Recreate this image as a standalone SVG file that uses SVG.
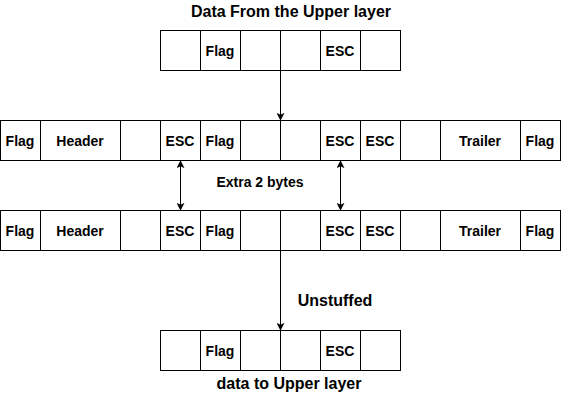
<svg xmlns="http://www.w3.org/2000/svg" width="561" height="401" viewBox="0 0 561 401">
<defs>
<style>
.c{fill:#fff;stroke:#000;stroke-width:1}
.t{font-family:"Liberation Sans",Arial,sans-serif;font-weight:bold;font-size:14px;fill:#000;text-anchor:middle}
.l{font-family:"Liberation Sans",Arial,sans-serif;font-weight:bold;fill:#000;text-anchor:middle}
.e{fill:none;stroke:#000;stroke-width:1}
</style>
<marker id="ah" viewBox="0 0 10 10" refX="9" refY="5" markerWidth="8" markerHeight="8" markerUnits="userSpaceOnUse" orient="auto-start-reverse">
<path d="M0,0 L10,5 L0,10 L2.5,5 Z" fill="#000"/>
</marker>
</defs>
<rect width="561" height="401" fill="#fff"/>

<g id="labels">
<text class="l" x="291" y="17" font-size="16">Data From the Upper layer</text>
<text class="l" x="260" y="187" font-size="14">Extra 2 bytes</text>
<text class="l" x="335" y="306" font-size="16">Unstuffed</text>
<text class="l" x="289" y="389" font-size="16">data to Upper layer</text>
</g>

<g id="row-top">
<rect class="c" x="160.5" y="30.5" width="40" height="40"/>
<rect class="c" x="200.5" y="30.5" width="40" height="40"/>
<rect class="c" x="240.5" y="30.5" width="40" height="40"/>
<rect class="c" x="280.5" y="30.5" width="40" height="40"/>
<rect class="c" x="320.5" y="30.5" width="40" height="40"/>
<rect class="c" x="360.5" y="30.5" width="40" height="40"/>
<text class="t" x="220" y="56">Flag</text>
<text class="t" x="340" y="56">ESC</text>
</g>

<g id="row-stuffed">
<rect class="c" x="0.5" y="120.5" width="40" height="40"/>
<rect class="c" x="40.5" y="120.5" width="80" height="40"/>
<rect class="c" x="120.5" y="120.5" width="40" height="40"/>
<rect class="c" x="160.5" y="120.5" width="40" height="40"/>
<rect class="c" x="200.5" y="120.5" width="40" height="40"/>
<rect class="c" x="240.5" y="120.5" width="40" height="40"/>
<rect class="c" x="280.5" y="120.5" width="40" height="40"/>
<rect class="c" x="320.5" y="120.5" width="40" height="40"/>
<rect class="c" x="360.5" y="120.5" width="40" height="40"/>
<rect class="c" x="400.5" y="120.5" width="40" height="40"/>
<rect class="c" x="440.5" y="120.5" width="80" height="40"/>
<rect class="c" x="520.5" y="120.5" width="40" height="40"/>
<text class="t" x="20" y="146">Flag</text>
<text class="t" x="80" y="146">Header</text>
<text class="t" x="180" y="146">ESC</text>
<text class="t" x="220" y="146">Flag</text>
<text class="t" x="340" y="146">ESC</text>
<text class="t" x="380" y="146">ESC</text>
<text class="t" x="480" y="146">Trailer</text>
<text class="t" x="540" y="146">Flag</text>
</g>

<g id="row-received">
<rect class="c" x="0.5" y="210.5" width="40" height="40"/>
<rect class="c" x="40.5" y="210.5" width="80" height="40"/>
<rect class="c" x="120.5" y="210.5" width="40" height="40"/>
<rect class="c" x="160.5" y="210.5" width="40" height="40"/>
<rect class="c" x="200.5" y="210.5" width="40" height="40"/>
<rect class="c" x="240.5" y="210.5" width="40" height="40"/>
<rect class="c" x="280.5" y="210.5" width="40" height="40"/>
<rect class="c" x="320.5" y="210.5" width="40" height="40"/>
<rect class="c" x="360.5" y="210.5" width="40" height="40"/>
<rect class="c" x="400.5" y="210.5" width="40" height="40"/>
<rect class="c" x="440.5" y="210.5" width="80" height="40"/>
<rect class="c" x="520.5" y="210.5" width="40" height="40"/>
<text class="t" x="20" y="236">Flag</text>
<text class="t" x="80" y="236">Header</text>
<text class="t" x="180" y="236">ESC</text>
<text class="t" x="220" y="236">Flag</text>
<text class="t" x="340" y="236">ESC</text>
<text class="t" x="380" y="236">ESC</text>
<text class="t" x="480" y="236">Trailer</text>
<text class="t" x="540" y="236">Flag</text>
</g>

<g id="row-bottom">
<rect class="c" x="160.5" y="330.5" width="40" height="40"/>
<rect class="c" x="200.5" y="330.5" width="40" height="40"/>
<rect class="c" x="240.5" y="330.5" width="40" height="40"/>
<rect class="c" x="280.5" y="330.5" width="40" height="40"/>
<rect class="c" x="320.5" y="330.5" width="40" height="40"/>
<rect class="c" x="360.5" y="330.5" width="40" height="40"/>
<text class="t" x="220" y="356">Flag</text>
<text class="t" x="340" y="356">ESC</text>
</g>

<g id="connectors">
<line class="e" x1="280.5" y1="70.5" x2="280.5" y2="120" marker-end="url(#ah)"/>
<line class="e" x1="180.5" y1="161" x2="180.5" y2="210" marker-start="url(#ah)" marker-end="url(#ah)"/>
<line class="e" x1="340.5" y1="161" x2="340.5" y2="210" marker-start="url(#ah)" marker-end="url(#ah)"/>
<line class="e" x1="280.5" y1="250.5" x2="280.5" y2="330" marker-end="url(#ah)"/>
</g>
</svg>
